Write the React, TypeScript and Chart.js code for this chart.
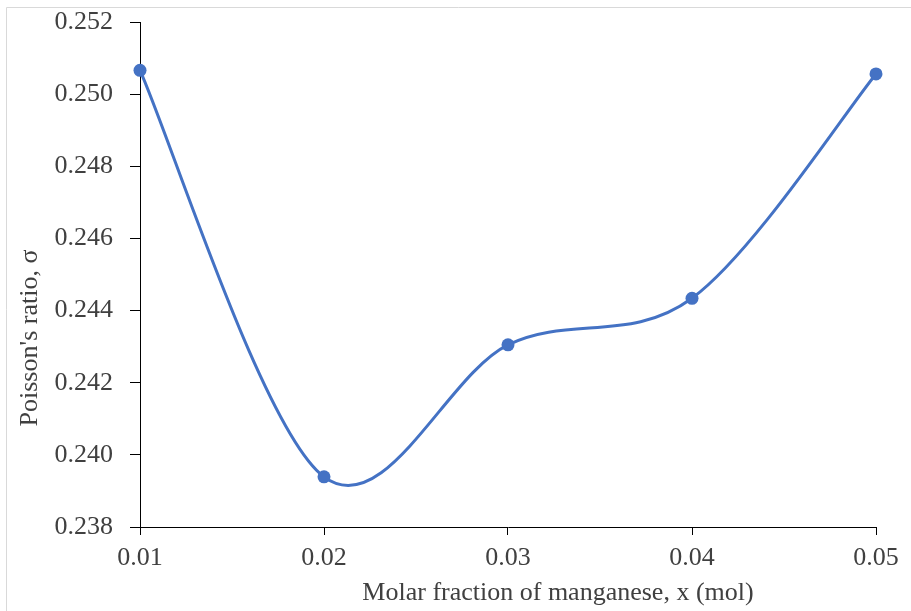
import React, { useEffect, useRef } from "react";
import { Chart, registerables } from "chart.js";

Chart.register(...registerables);

const xValues = [0.01, 0.02, 0.03, 0.04, 0.05];
const poissonRatio = [0.25066, 0.23939, 0.24305, 0.24434, 0.25056];
const xTitle = "Molar fraction of manganese, x (mol)";
const yTitle = "Poisson's ratio, σ";

const FONT = '"Liberation Serif", "Times New Roman", serif';
const TEXT = "#404040";

const excelSmooth = {
  id: "excelSmooth",
  beforeDatasetDraw(chart: any, args: any) {
    const meta = args.meta;
    const line = meta.dataset;
    if (!line) return;
    line.updateControlPoints(chart.chartArea, "x");
    const pts = meta.data;
    for (let i = 0; i < pts.length; i++) {
      const p = pts[i];
      const prev = pts[i - 1] || p;
      const next = pts[i + 1] || p;
      const dx = (next.x - prev.x) / 6;
      const dy = (next.y - prev.y) / 6;
      p.cp1x = p.x - dx;
      p.cp1y = p.y - dy;
      p.cp2x = p.x + dx;
      p.cp2y = p.y + dy;
    }
    line._pointsUpdated = true;
    line._path = undefined;
  },
};

const decor = {
  id: "decor",
  afterDraw(chart: any) {
    const ctx = chart.ctx;
    ctx.save();
    ctx.strokeStyle = "#d9d9d9";
    ctx.lineWidth = 1;
    ctx.beginPath();
    ctx.moveTo(6.5, 611);
    ctx.lineTo(6.5, 7.5);
    ctx.lineTo(911, 7.5);
    ctx.stroke();
    ctx.fillStyle = TEXT;
    ctx.font = `26px ${FONT}`;
    ctx.textAlign = "center";
    ctx.textBaseline = "alphabetic";
    ctx.fillText(xTitle, 558, 600);
    ctx.translate(37, 338);
    ctx.rotate(-Math.PI / 2);
    ctx.textBaseline = "alphabetic";
    ctx.fillText(yTitle, 0, 0);
    ctx.restore();
  },
};

export default function App() {
  const ref = useRef<HTMLCanvasElement | null>(null);
  useEffect(() => {
    if (!ref.current) return;
    const chart = new Chart(ref.current, {
      type: "line",
      data: {
        datasets: [
          {
            data: xValues.map((x, i) => ({ x, y: poissonRatio[i] })),
            borderColor: "#4472C4",
            backgroundColor: "#4472C4",
            borderWidth: 3,
            pointRadius: 6.5,
            pointBorderWidth: 0,
            pointBackgroundColor: "#4472C4",
            tension: 0.4,
            clip: false,
          },
        ],
      },
      options: {
        responsive: false,
        animation: false,
        layout: { padding: { top: 22, right: 35, left: 0, bottom: 0 } },
        plugins: { legend: { display: false }, tooltip: { enabled: false } },
        scales: {
          x: {
            type: "linear",
            min: 0.01,
            max: 0.05,
            ticks: {
              stepSize: 0.01,
              color: TEXT,
              font: { family: FONT, size: 26 },
              padding: 8,
              maxRotation: 0,
              callback: (v: any) => Number(v).toFixed(2),
            },
            grid: {
              drawOnChartArea: false,
              drawTicks: true,
              tickLength: 8,
              color: "#000000",
            },
            border: { display: true, color: "#000000", width: 1 },
            afterFit: (s: any) => {
              s.height = 84;
              s.paddingLeft = 0;
              s.paddingRight = 0;
            },
          },
          y: {
            min: 0.238,
            max: 0.252,
            ticks: {
              stepSize: 0.002,
              color: TEXT,
              font: { family: FONT, size: 26 },
              padding: 17,
              callback: (v: any) => Number(v).toFixed(3),
            },
            grid: {
              drawOnChartArea: false,
              drawTicks: true,
              tickLength: 10,
              color: "#000000",
            },
            border: { display: true, color: "#000000", width: 1 },
            afterFit: (s: any) => {
              s.width = 140;
              s.paddingTop = 0;
              s.paddingBottom = 0;
            },
          },
        },
      },
      plugins: [excelSmooth, decor],
    });
    return () => chart.destroy();
  }, []);
  return (
    <div style={{ position: "absolute", left: 0, top: 0, width: 911, height: 611, background: "#fff" }}>
      <canvas ref={ref} width={911} height={611} style={{ width: 911, height: 611, display: "block" }} />
    </div>
  );
}
